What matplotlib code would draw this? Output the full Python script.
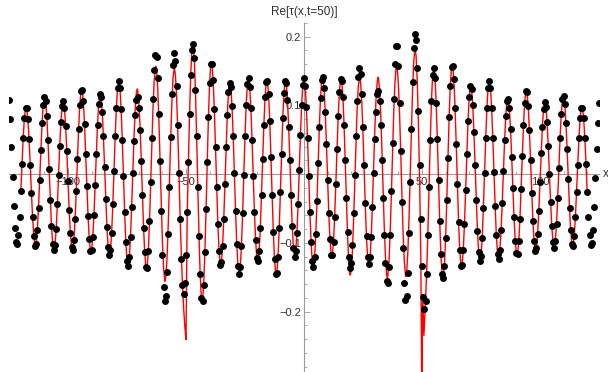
import matplotlib
matplotlib.use("Agg")
import matplotlib.pyplot as plt
from matplotlib.ticker import MultipleLocator
import numpy as np

plt.rcParams["font.family"] = ["Liberation Sans", "DejaVu Sans"]

# numerical solution: one dot every 0.5 in x, starting at x = -125
X_START = -125.0
X_STEP = 0.5

# values, one row per oscillation (peak to peak)
dot_y = [
    0.108, 0.080, 0.040, -0.004, -0.046, -0.079, -0.099,
    -0.102, -0.089, -0.062, -0.025, 0.015, 0.052, 0.081, 0.096, 0.096, 0.080, 0.051, 0.014, -0.027, -0.063, -0.090, -0.104,
    -0.101, -0.082, -0.049, -0.008, 0.035, 0.074, 0.101, 0.113, 0.107, 0.085, 0.050, 0.007, -0.037, -0.075, -0.101,
    -0.111, -0.103, -0.080, -0.044, -0.001, 0.041, 0.076, 0.099, 0.106, 0.096, 0.070, 0.033, -0.010, -0.052, -0.085, -0.106,
    -0.110, -0.096, -0.066, -0.025, 0.022, 0.066, 0.101, 0.121, 0.123, 0.106, 0.073, 0.030, -0.017, -0.061, -0.095, -0.112,
    -0.111, -0.092, -0.059, -0.016, 0.030, 0.072, 0.102, 0.116, 0.113, 0.091, 0.055, 0.010, -0.036, -0.077, -0.106, -0.118,
    -0.111, -0.085, -0.044, 0.005, 0.055, 0.097, 0.126, 0.136, 0.126, 0.095, 0.050, -0.003, -0.055, -0.099, -0.126,
    -0.134, -0.121, -0.091, -0.048, 0.001, 0.048, 0.086, 0.108, 0.112, 0.096, 0.064, 0.019, -0.031, -0.078, -0.114, -0.135,
    -0.136, -0.112, -0.068, -0.011, 0.052, 0.109, 0.152, 0.174, 0.171, 0.140, 0.087, 0.019, -0.053, -0.117, -0.164, -0.185,
    -0.178, -0.143, -0.087, -0.018, 0.054, 0.116, 0.159, 0.176, 0.165, 0.128, 0.071, 0.002, -0.066, -0.124, -0.162,
    -0.175, -0.159, -0.117, -0.055, 0.017, 0.087, 0.145, 0.181, 0.189, 0.169, 0.122, 0.056, -0.018, -0.090, -0.146, -0.180,
    -0.184, -0.161, -0.114, -0.051, 0.018, 0.083, 0.133, 0.160, 0.160, 0.137, 0.095, 0.040, -0.019, -0.072, -0.112, -0.132,
    -0.128, -0.105, -0.065, -0.014, 0.039, 0.086, 0.119, 0.133, 0.127, 0.099, 0.055, 0.001, -0.053, -0.101, -0.133,
    -0.145, -0.135, -0.104, -0.057, -0.001, 0.055, 0.101, 0.131, 0.140, 0.127, 0.096, 0.049, -0.003, -0.055, -0.096, -0.122,
    -0.127, -0.112, -0.078, -0.030, 0.022, 0.072, 0.112, 0.134, 0.136, 0.116, 0.077, 0.025, -0.031, -0.084, -0.124, -0.145,
    -0.144, -0.120, -0.079, -0.026, 0.030, 0.081, 0.118, 0.136, 0.132, 0.108, 0.069, 0.020, -0.031, -0.075, -0.107, -0.120,
    -0.112, -0.086, -0.044, 0.006, 0.057, 0.100, 0.130, 0.140, 0.129, 0.098, 0.052, -0.002, -0.055, -0.099, -0.127,
    -0.135, -0.121, -0.087, -0.039, 0.016, 0.069, 0.111, 0.137, 0.141, 0.125, 0.090, 0.044, -0.008, -0.057, -0.095, -0.117,
    -0.118, -0.099, -0.062, -0.014, 0.037, 0.085, 0.120, 0.138, 0.136, 0.113, 0.072, 0.020, -0.035, -0.084, -0.120, -0.136,
    -0.130, -0.103, -0.057, -0.001, 0.056, 0.107, 0.141, 0.155, 0.146, 0.116, 0.069, 0.013, -0.042, -0.090, -0.121,
    -0.131, -0.120, -0.091, -0.048, 0.002, 0.051, 0.091, 0.116, 0.121, 0.106, 0.071, 0.021, -0.034, -0.088, -0.130, -0.155,
    -0.158, -0.135, -0.088, -0.025, 0.045, 0.110, 0.160, 0.187, 0.186, 0.157, 0.104, 0.034, -0.040, -0.108, -0.158, -0.183,
    -0.178, -0.144, -0.085, -0.011, 0.066, 0.134, 0.183, 0.204, 0.195, 0.155, 0.092, 0.014, -0.065, -0.133, -0.179,
    -0.197, -0.184, -0.146, -0.088, -0.019, 0.049, 0.106, 0.144, 0.155, 0.140, 0.104, 0.051, -0.009, -0.068, -0.116, -0.145,
    -0.151, -0.133, -0.093, -0.038, 0.024, 0.083, 0.129, 0.156, 0.158, 0.138, 0.097, 0.044, -0.015, -0.070, -0.111, -0.133,
    -0.132, -0.110, -0.072, -0.023, 0.030, 0.077, 0.112, 0.128, 0.124, 0.101, 0.061, 0.013, -0.038, -0.083, -0.114, -0.127,
    -0.119, -0.093, -0.050, 0.001, 0.052, 0.096, 0.126, 0.136, 0.126, 0.097, 0.053, 0.003, -0.047, -0.089, -0.116,
    -0.123, -0.111, -0.082, -0.042, 0.005, 0.049, 0.085, 0.107, 0.110, 0.096, 0.066, 0.025, -0.020, -0.063, -0.097, -0.115,
    -0.116, -0.098, -0.065, -0.021, 0.027, 0.071, 0.104, 0.121, 0.119, 0.099, 0.064, 0.020, -0.027, -0.068, -0.098, -0.112,
    -0.108, -0.087, -0.053, -0.012, 0.031, 0.069, 0.095, 0.105, 0.098, 0.076, 0.041, 0.000, -0.041, -0.076, -0.099,
    -0.107, -0.097, -0.072, -0.034, 0.009, 0.052, 0.087, 0.109, 0.114, 0.102, 0.074, 0.036, -0.007, -0.049, -0.082, -0.101,
    -0.104, -0.090, -0.063, -0.026, 0.014, 0.052, 0.081, 0.097, 0.097, 0.081, 0.052, 0.015, -0.026, -0.062, -0.089, -0.103,
    -0.100, -0.081, -0.048, -0.006, 0.037, 0.075, 0.103,
]

# red curve: runs over -120..120 and sits on the dots, except in two bands
RED_X_MIN = -120.0
RED_X_MAX = 120.0

red_left_x = [-74.5, -74.0, -73.5, -73.0, -72.5, -72.0, -71.5, -71.0, -70.65,
              -70.5, -70.0, -69.5, -69.0, -68.5, -68.0, -67.5, -67.0, -66.7,
              -66.5, -66.0, -65.5, -65.0, -64.5, -64.0, -63.5, -63.0, -62.8,
              -62.5, -62.0, -61.5, -61.0, -60.5, -60.0, -59.5, -59.0, -58.9,
              -58.5, -58.0, -57.5, -57.0, -56.5, -56.0, -55.5, -54.95,
              -54.5, -54.0, -53.5, -53.0, -52.5, -52.0, -51.5, -51.0, -50.5, -50.0,
              -49.7, -49.5, -49.0]
red_left_y = [-0.134, -0.121, -0.089, -0.044, 0.007, 0.056, 0.095, 0.119, 0.124,
              0.123, 0.107, 0.072, 0.025, -0.027, -0.076, -0.114, -0.136, -0.139,
              -0.137, -0.115, -0.073, -0.019, 0.040, 0.094, 0.135, 0.155, 0.157,
              0.153, 0.126, 0.080, 0.021, -0.041, -0.097, -0.137, -0.155, -0.156,
              -0.149, -0.119, -0.071, -0.011, 0.050, 0.103, 0.140, 0.155,
              0.145, 0.115, 0.065, 0.002, -0.060, -0.115, -0.160, -0.195, -0.222, -0.241,
              -0.130, -0.060, 0.015]

red_right_x = [16.0, 16.5, 17.0, 17.5, 18.0, 18.5, 19.0, 19.5, 19.6,
               20.0, 20.5, 21.0, 21.5, 22.0, 22.5, 23.0, 23.55,
               24.0, 24.5, 25.0, 25.5, 26.0, 26.5, 27.0, 27.5, 28.0, 28.5, 29.0,
               29.5, 30.0, 30.5, 31.0, 31.4,
               31.5, 32.0, 32.5, 33.0, 33.5, 34.0, 34.5, 35.0, 35.3,
               35.5, 36.0, 36.5, 37.0, 37.5, 38.0, 38.5, 39.0, 39.25,
               39.5, 40.0, 40.5, 41.0, 41.5, 42.0, 42.5, 43.0, 43.2,
               43.5, 44.0, 44.5, 45.0, 45.5, 46.0, 46.5, 47.0, 47.1,
               47.5, 48.0, 48.5, 49.0, 49.5, 49.9, 50.3, 50.8, 51.3, 51.7,
               52.0, 52.5, 53.0]
red_right_y = [0.136, 0.112, 0.069, 0.015, -0.042, -0.093, -0.129, -0.146, -0.147,
               -0.140, -0.113, -0.068, -0.013, 0.044, 0.094, 0.128, 0.142,
               0.133, 0.104, 0.059, 0.005, -0.048, -0.094, -0.124, -0.134, -0.122, -0.090, -0.044,
               0.010, 0.064, 0.107, 0.134, 0.141,
               0.140, 0.125, 0.088, 0.037, -0.021, -0.076, -0.120, -0.146, -0.151,
               -0.149, -0.129, -0.087, -0.032, 0.030, 0.087, 0.131, 0.155, 0.158,
               0.155, 0.131, 0.087, 0.031, -0.031, -0.086, -0.127, -0.147, -0.149,
               -0.143, -0.114, -0.064, -0.001, 0.064, 0.122, 0.164, 0.181, 0.182,
               0.172, 0.135, 0.070, -0.010, -0.120, -0.320, -0.175, -0.235, -0.200, -0.165,
               -0.140, -0.085, -0.019]

x_ticks = [-100, -50, 50, 100]
y_ticks = [-0.2, -0.1, 0.1, 0.2]
y_label = "Re[τ(x,t=50)]"
x_label = "x"

AXIS_GREY = "#9a9a9a"
TEXT_GREY = "#303030"


def main():
    dot_x = X_START + X_STEP * np.arange(len(dot_y))
    dots = np.asarray(dot_y)

    keep = (dot_x >= RED_X_MIN) & (dot_x <= RED_X_MAX)
    keep &= ~((dot_x >= red_left_x[0]) & (dot_x <= red_left_x[-1]))
    keep &= ~((dot_x >= red_right_x[0]) & (dot_x <= red_right_x[-1]))
    red_x = np.concatenate([dot_x[keep], red_left_x, red_right_x])
    red_y = np.concatenate([dots[keep], red_left_y, red_right_y])
    order = np.argsort(red_x)
    red_x, red_y = red_x[order], red_y[order]

    fig = plt.figure(figsize=(6.08, 3.72), dpi=100)
    ax = fig.add_axes([9 / 608, 0.0, 590 / 608, 349 / 372])

    ax.plot(red_x, red_y, color="#ff0000", lw=1.0, zorder=2)
    ax.plot(dot_x, dots, "o", color="black", ms=5.0, mew=0, zorder=3)

    ax.set_xlim(-125, 125)
    ax.set_ylim(-0.288, 0.220)

    for side in ("top", "right"):
        ax.spines[side].set_visible(False)
    for side in ("left", "bottom"):
        ax.spines[side].set_position(("data", 0))
        ax.spines[side].set_color(AXIS_GREY)
        ax.spines[side].set_linewidth(0.8)
        ax.spines[side].set_zorder(1)
    ax.set_axisbelow(True)

    ax.set_xticks(x_ticks)
    ax.set_yticks(y_ticks)
    ax.xaxis.set_minor_locator(MultipleLocator(10))
    ax.yaxis.set_minor_locator(MultipleLocator(0.02))
    ax.tick_params(which="both", direction="in", color=AXIS_GREY, width=0.6)
    ax.tick_params(which="major", length=4, labelsize=8, labelcolor=TEXT_GREY, pad=2)
    ax.tick_params(which="minor", length=2.2)

    ax.annotate(y_label, xy=(0, 1), xycoords=("data", "axes fraction"),
                xytext=(0, 8), textcoords="offset points", ha="center", va="center",
                fontsize=8.5, color=TEXT_GREY, annotation_clip=False)
    ax.annotate(x_label, xy=(1, 0), xycoords=("axes fraction", "data"),
                xytext=(3, 0), textcoords="offset points", ha="left", va="center",
                fontsize=8.5, color=TEXT_GREY, annotation_clip=False)

    fig.savefig("out.png", dpi=100)
    print(len(dot_y), "dots")


if __name__ == "__main__":
    main()
